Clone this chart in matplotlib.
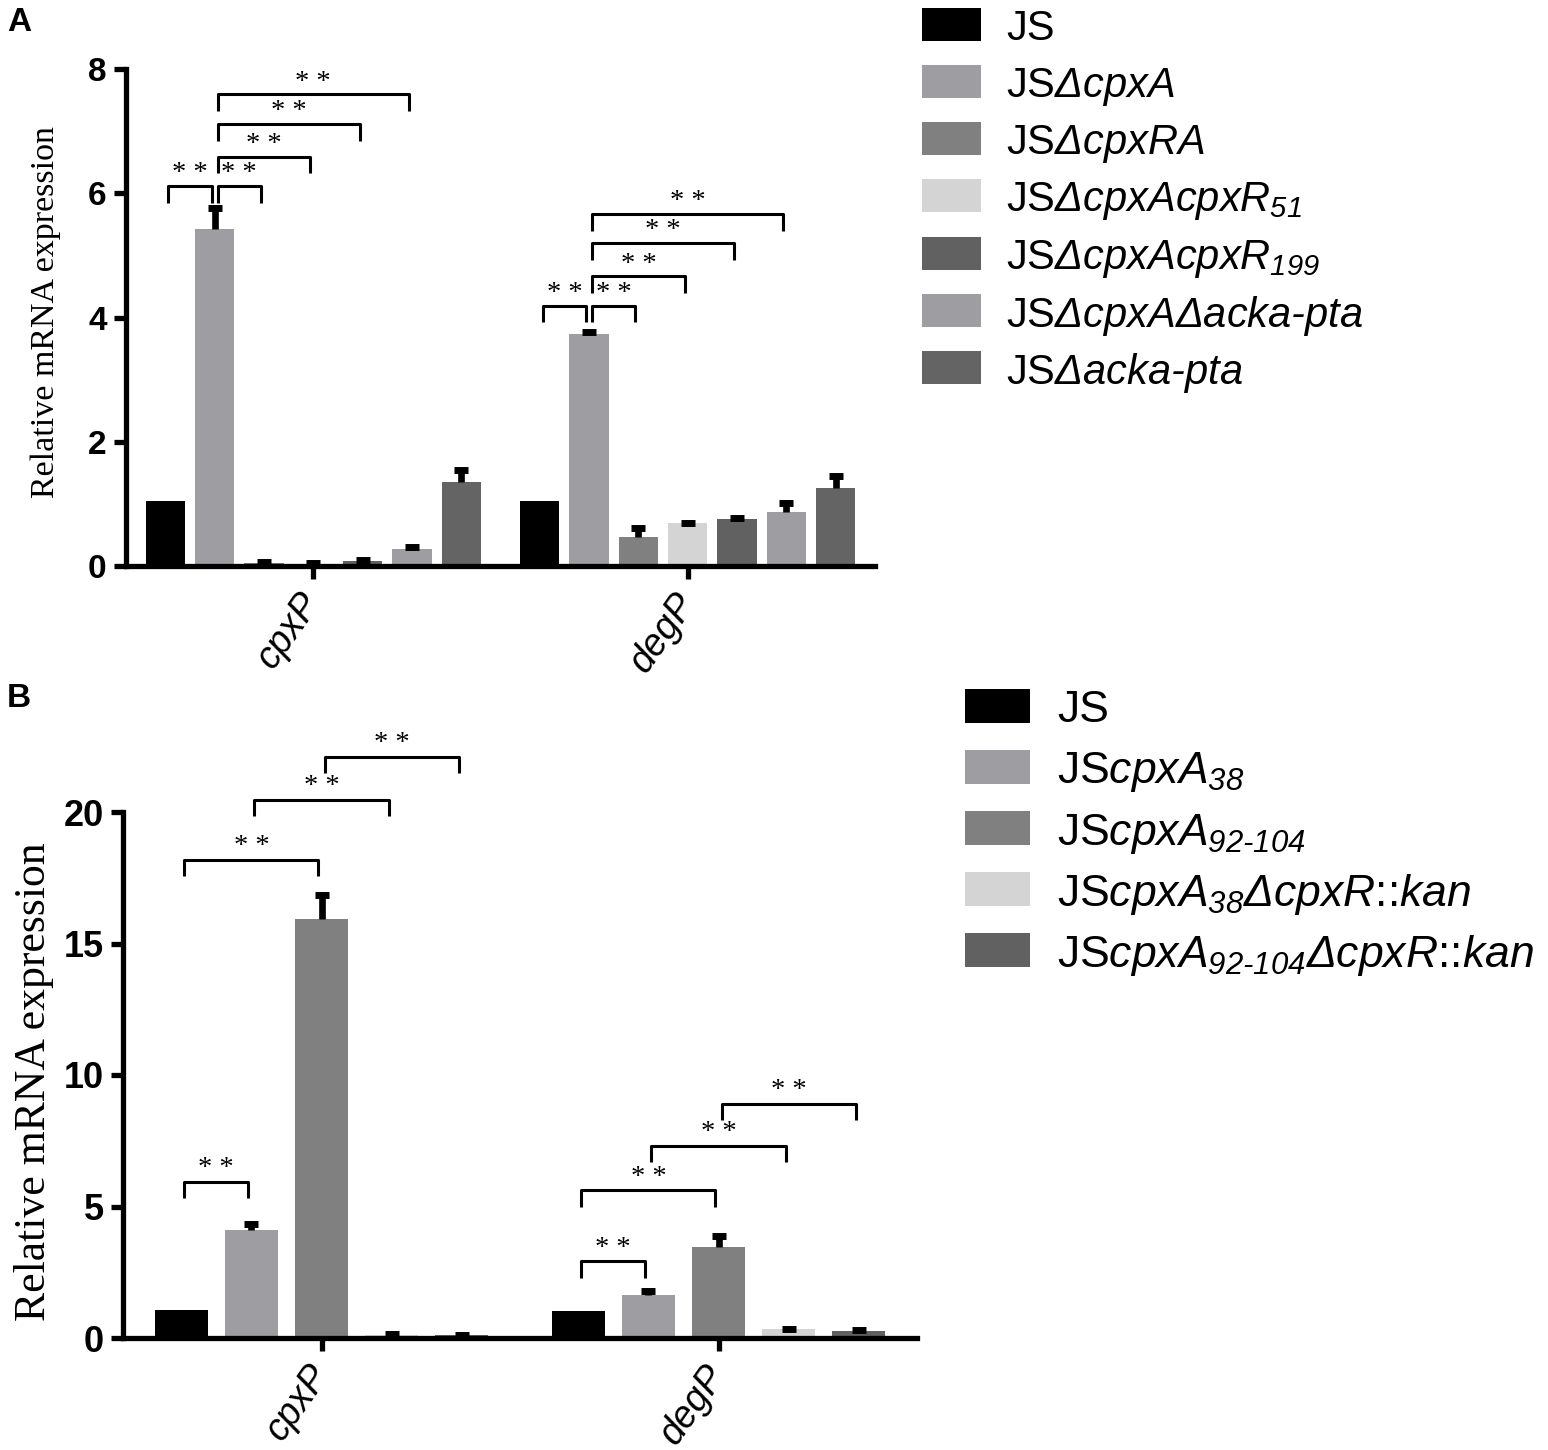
import matplotlib
matplotlib.use("Agg")
import matplotlib.pyplot as plt
from matplotlib.patches import Rectangle
import matplotlib.transforms as mtransforms
import numpy as np

plt.rcParams['font.family'] = ['Liberation Sans', 'DejaVu Sans']
plt.rcParams['mathtext.fontset'] = 'custom'
plt.rcParams['mathtext.rm'] = 'Liberation Sans:italic'
plt.rcParams['mathtext.it'] = 'Liberation Sans:italic'
plt.rcParams['mathtext.bf'] = 'Liberation Sans:bold:italic'

# ---------------- data ----------------
genes = ['cpxP', 'degP']

strains_A = ['JS', r'JS$ΔcpxA$', r'JS$ΔcpxRA$',
             r'JS$ΔcpxAcpxR_{51}$',
             r'JS$ΔcpxAcpxR_{199}$',
             r'JS$ΔcpxAΔacka‐pta$',
             r'JS$Δacka‐pta$']
colors_A = ['#000000', '#9e9ea2', '#808080', '#d4d4d4', '#616161', '#9e9ea2', '#646464']
A_cpxP_mean = [1.04, 5.42, 0.05, 0.04, 0.08, 0.28, 1.36]
A_cpxP_err = [0.0, 0.34, 0.01, 0.01, 0.01, 0.03, 0.19]
A_degP_mean = [1.04, 3.73, 0.47, 0.69, 0.75, 0.875, 1.25]
A_degP_err = [0.0, 0.04, 0.14, 0.01, 0.02, 0.14, 0.20]
# (gene index, bar i, bar j, bracket height)
sig_A = [(0, 0, 1, 6.12), (0, 1, 2, 6.12), (0, 1, 3, 6.59), (0, 1, 4, 7.11), (0, 1, 5, 7.59),
         (1, 0, 1, 4.19), (1, 1, 2, 4.19), (1, 1, 3, 4.66), (1, 1, 4, 5.20), (1, 1, 5, 5.66)]

strains_B = ['JS', r'JS$cpxA_{38}$', r'JS$cpxA_{92‐104}$',
             r'JS$cpxA_{38}ΔcpxR$::$kan$',
             r'JS$cpxA_{92‐104}ΔcpxR$::$kan$']
colors_B = ['#000000', '#9e9ea2', '#808080', '#d4d4d4', '#616161']
B_cpxP_mean = [1.07, 4.10, 15.93, 0.12, 0.10]
B_cpxP_err = [0.0, 0.22, 0.91, 0.02, 0.02]
B_degP_mean = [1.04, 1.65, 3.45, 0.34, 0.28]
B_degP_err = [0.0, 0.12, 0.43, 0.02, 0.02]
sig_B = [(0, 0, 1, 5.94), (0, 0, 2, 18.17), (0, 1, 3, 20.47), (0, 2, 4, 22.1),
         (1, 0, 1, 2.92), (1, 0, 2, 5.61), (1, 1, 3, 7.30), (1, 2, 4, 8.91)]

yticks_A = [0, 2, 4, 6, 8]
yticks_B = [0, 5, 10, 15, 20]

# ---------------- figure ----------------
W, H = 1548, 1450
fig = plt.figure(figsize=(W / 100, H / 100), dpi=100)

def fx(px):
    return px / W

def fy(py):
    return 1 - py / H

SPINE = 3.8

def panel(ax, means, errs, colors, slot, bw, yticks, sig, leg, star_off, tick_fs):
    n = len(colors)
    x = np.arange(len(genes))
    for i in range(n):
        pos = x + (i - (n - 1) / 2) * slot
        vals = np.array([means[g][i] for g in range(len(genes))])
        ax.bar(pos, vals, width=bw, color=colors[i], edgecolor='none', zorder=2)
        if i == 0:
            continue
        e = np.array([errs[g][i] for g in range(len(genes))])
        ax.errorbar(pos, vals, yerr=[np.zeros_like(e), e], fmt='none', ecolor='black',
                    elinewidth=4.8, capsize=0, zorder=3)
        ax.plot(pos, vals + e, linestyle='none', marker='_', markersize=10.5,
                markeredgewidth=5, color='black', zorder=3)
    for g, i, j, h in sig:
        xi = x[g] + (i - (n - 1) / 2) * slot + 0.008
        xj = x[g] + (j - (n - 1) / 2) * slot - 0.008
        ax.plot([xi, xi, xj, xj], [h - leg, h, h, h - leg], color='black', lw=2.2,
                clip_on=False, zorder=4, solid_capstyle='butt')
        ax.text((xi + xj) / 2, h + star_off, '* *', ha='center', va='center',
                fontsize=20.5, family='Liberation Serif', clip_on=False)
    ax.set_xlim(-0.5, 1.5)
    ax.set_ylim(yticks[0], yticks[-1])
    ax.set_yticks(yticks)
    ax.set_yticklabels([str(t) for t in yticks], fontsize=tick_fs, fontweight='bold')
    ax.set_xticks(x)
    ax.set_xticklabels(genes, fontsize=27, style='italic', rotation=55,
                       ha='right', va='center', rotation_mode='anchor')
    shift = mtransforms.ScaledTranslation(-6 / 100, 0, fig.dpi_scale_trans)
    for lab in ax.get_xticklabels():
        lab.set_transform(lab.get_transform() + shift)
    for s in ['top', 'right']:
        ax.spines[s].set_visible(False)
    for s in ['left', 'bottom']:
        ax.spines[s].set_linewidth(SPINE)
    ax.tick_params(axis='both', width=SPINE, length=9, direction='out')
    ax.tick_params(axis='y', pad=5)
    ax.tick_params(axis='x', pad=13)
    return ax

axA = fig.add_axes([fx(126), fy(566), fx(875 - 126), (566 - 69) / H])
panel(axA, [A_cpxP_mean, A_degP_mean], [A_cpxP_err, A_degP_err], colors_A,
      49 / 372, 39 / 372, yticks_A, sig_A, 0.27, 0.2, 24)
fig.text(fx(46), fy(312), 'Relative mRNA expression', rotation=90, ha='center', va='center',
         fontsize=24.5, family='Liberation Serif')

axB = fig.add_axes([fx(123), fy(1338), fx(917 - 123), (1338 - 812) / H])
panel(axB, [B_cpxP_mean, B_degP_mean], [B_cpxP_err, B_degP_err], colors_B,
      70 / 396, 53 / 396, yticks_B, sig_B, 0.62, 0.5, 26)
fig.text(fx(34), fy(1082), 'Relative mRNA expression', rotation=90, ha='center', va='center',
         fontsize=31.5, family='Liberation Serif')

# panel letters
fig.text(fx(7), fy(7), 'A', fontsize=24, fontweight='bold', ha='left', va='top')
fig.text(fx(7), fy(683), 'B', fontsize=24, fontweight='bold', ha='left', va='top')

# legends (drawn manually in figure coordinates)
def legend(labels, colors, x0, y0, pitch, pw, ph, tx, fs):
    for k, (lab, c) in enumerate(zip(labels, colors)):
        yc = y0 + k * pitch
        fig.patches.append(Rectangle((fx(x0), fy(yc + ph / 2)), pw / W, ph / H,
                                     transform=fig.transFigure, facecolor=c,
                                     edgecolor='none'))
        fig.text(fx(tx), fy(yc), lab, fontsize=fs, ha='left', va='center_baseline')

legend(strains_A, colors_A, 922, 24, 57.3, 59, 33, 1006, 30)
legend(strains_B, colors_B, 965, 706, 61, 65, 34, 1057, 32)

fig.savefig('out.png', dpi=100)
